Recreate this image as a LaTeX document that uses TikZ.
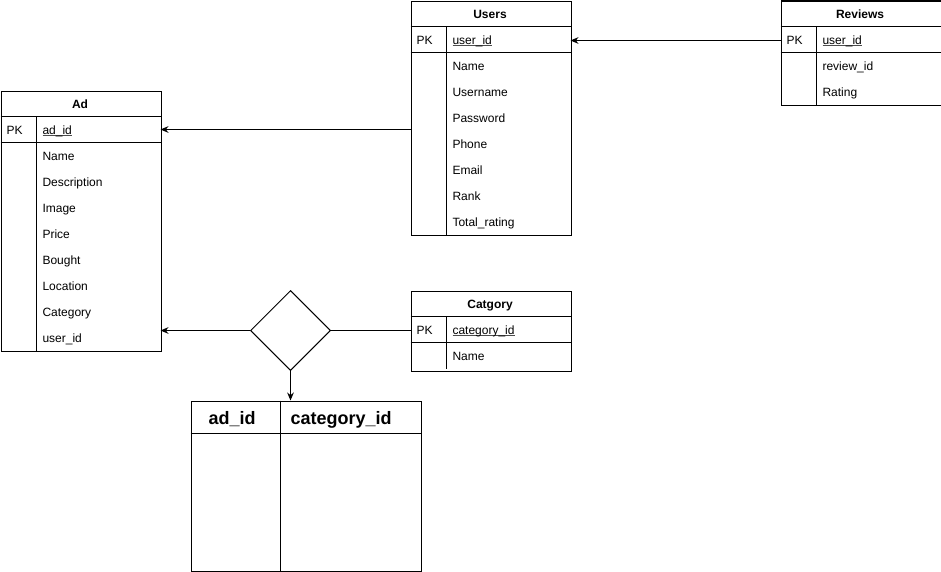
\documentclass[tikz,border=0pt]{standalone}
\usepackage{fontspec}
\setmainfont{Liberation Sans}
\usetikzlibrary{arrows.meta,shapes.geometric}

\tikzset{
    tbl/.style={draw, line width=0.75pt, anchor=north west, inner sep=0pt},
    ttl/.style={text height=8.5pt, text depth=1pt, inner sep=0pt, font=\fontsize{9pt}{11pt}\selectfont\bfseries},
    fld/.style={anchor=west, text height=8.5pt, text depth=1pt, inner sep=0pt, font=\fontsize{9pt}{11pt}\selectfont},
    big/.style={anchor=west, text height=12pt, text depth=2pt, inner sep=0pt, font=\fontsize{13.5pt}{16pt}\selectfont\bfseries},
    arr/.style={line width=0.75pt, -{Stealth[length=6pt,width=5pt]}},
    lnk/.style={line width=0.75pt}
}
\newcommand{\pkey}[1]{\setbox0\hbox{#1}\rlap{\color{black!70}\rule[-1.6pt]{\wd0}{0.5pt}}#1}

\begin{document}
\begin{tikzpicture}[x=0.75pt, y=-0.75pt, line width=0.75pt]
    \useasboundingbox (0,0) rectangle (941,571);

    % Ad
    \node[tbl, minimum width=120pt, minimum height=195pt] (ad) at (0.5,90.5) {};
        \draw (0.5,116.5) -- (160.5,116.5);
        \draw (0.5,142.5) -- (160.5,142.5);
        \draw (36.5,116.5) -- (36.5,350.5);
        \node[ttl] (adttl) at (80,103) {Ad};
        \node[fld] (adpkl) at (6,129) {PK};
        \node[fld] (adpk) at (42,129) {\pkey{ad\_id}};
        \foreach \f [count=\i] in {Name,Description,Image,Price,Bought,Location,Category,user\_id}
            \node[fld] (ad\i) at (42,{142+26*\i-13}) {\f};

    % Users
    \node[tbl, minimum width=120pt, minimum height=175.5pt] (users) at (410.5,0.5) {};
        \draw (410.5,26.5) -- (570.5,26.5);
        \draw (410.5,52.5) -- (570.5,52.5);
        \draw (446.5,26.5) -- (446.5,234.5);
        \node[ttl] (usersttl) at (490,13) {Users};
        \node[fld] (userspkl) at (416,39) {PK};
        \node[fld] (userspk) at (452,39) {\pkey{user\_id}};
        \foreach \f [count=\i] in {Name,Username,Password,Phone,Email,Rank,Total\_rating}
            \node[fld] (users\i) at (452,{52+26*\i-13}) {\f};

    % Reviews
    \node[tbl, minimum width=120pt, minimum height=78pt] (reviews) at (780.5,0.5) {};
        \draw (780.5,26.5) -- (940.5,26.5);
        \draw (780.5,52.5) -- (940.5,52.5);
        \draw (816.5,26.5) -- (816.5,104.5);
        \node[ttl] (reviewsttl) at (860,13) {Reviews};
        \node[fld] (reviewspkl) at (786,39) {PK};
        \node[fld] (reviewspk) at (822,39) {\pkey{user\_id}};
        \foreach \f [count=\i] in {review\_id,Rating}
            \node[fld] (reviews\i) at (822,{52+26*\i-13}) {\f};

    % Catgory
    \node[tbl, minimum width=120pt, minimum height=60pt] (cat) at (410.5,290.5) {};
        \draw (410.5,316.5) -- (570.5,316.5);
        \draw (410.5,342.5) -- (570.5,342.5);
        \draw (446.5,316.5) -- (446.5,368.5);
        \node[ttl] (catttl) at (490,303) {Catgory};
        \node[fld] (catpkl) at (416,329) {PK};
        \node[fld] (catpk) at (452,329) {\pkey{category\_id}};
        \node[fld] (cat1) at (452,355) {Name};

    % relation
    \node[draw, diamond, aspect=1, inner sep=0pt, minimum size=60pt] (rel) at (290.5,330.5) {};

    % ad_id / category_id
    \node[tbl, minimum width=172.5pt, minimum height=127.5pt] (adcat) at (190.5,400.5) {};
        \draw (190.5,433.5) -- (420.5,433.5);
        \draw (280.5,400.5) -- (280.5,570.5);
        \node[big] (adcat1) at (208,418) {ad\_id};
        \node[big] (adcat2) at (290,418) {category\_id};

    % links
    \coordinate (adpkend) at (160.5,129.5);
    \coordinate (adfkend) at (160.5,330.5);
    \coordinate (userspkend) at (570.5,40.5);
    \draw[arr] (users.west |- adpkend) -- (adpkend);
    \draw[arr] (reviews.west |- userspkend) -- (userspkend);
    \draw[arr] (rel.west) -- (adfkend);
    \draw[lnk] (rel.east) -- (cat.west |- rel.east);
    \draw[arr] (rel.south) -- (rel.south |- adcat.north);
\end{tikzpicture}
\end{document}
